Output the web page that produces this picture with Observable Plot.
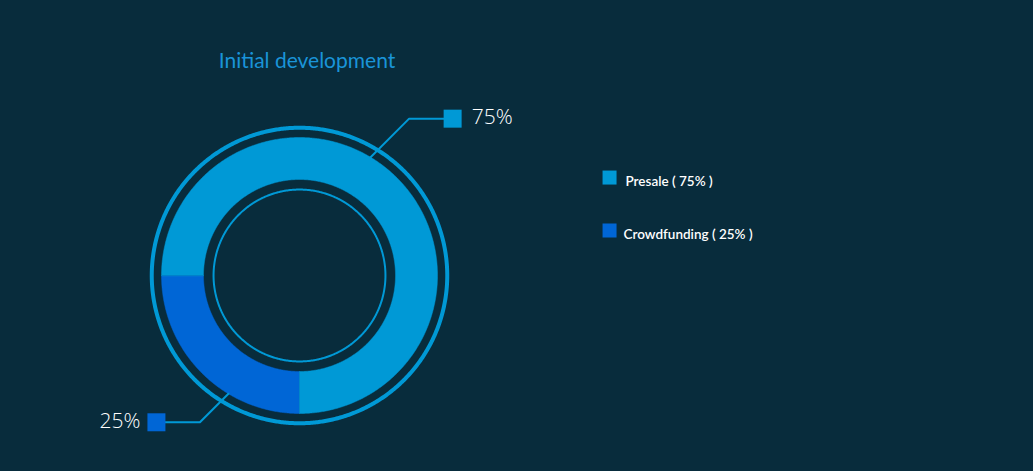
<!DOCTYPE html>
<html><head><meta charset="utf-8">
<script src="https://cdn.jsdelivr.net/npm/d3@7"></script>
<script src="https://cdn.jsdelivr.net/npm/@observablehq/plot@0.6"></script>
<style>html,body{margin:0;padding:0;background:#082c3c;overflow:hidden;}</style>
</head><body><div id="chart"></div>
<script>
// ---- data ----
const title = "Initial development";
const categories = ["Crowdfunding", "Presale"];
const values = [25, 75];
const colors = ["#0066d6", "#0099d6"];
const labelTexts = ["25%", "75%"];
const legendNames = ["Presale", "Crowdfunding"];
const legendTexts = ["Presale ( 75% )", "Crowdfunding ( 25% )"];

// ---- layout (radius units, 1 unit = 150px) ----
const R_OUT = 0.92, R_IN = 0.64, R_RING = 0.985, R_THIN = 0.573;
const START = Math.PI;            // slices start at 6 o'clock, clockwise
const labelAngle = {Crowdfunding: 211, Presale: 31};  // degrees from 12 o'clock
const labelDiag = {Crowdfunding: 0.19, Presale: 0.257};
const labelArm = 0.29;

const total = d3.sum(values);
let acc = 0;
const slices = categories.map((name, i) => {
  const a0 = START + acc / total * 2 * Math.PI;
  acc += values[i];
  const a1 = START + acc / total * 2 * Math.PI;
  return {name, value: values[i], color: colors[i], label: labelTexts[i], a0, a1};
});
const pt = (r, a) => ({x: r * Math.sin(a), y: r * Math.cos(a)});
function slicePoly(s) {
  const pts = [];
  const n = Math.max(2, Math.ceil((s.a1 - s.a0) / (Math.PI / 360)));
  for (let k = 0; k <= n; k++) pts.push(pt(R_OUT, s.a0 + (s.a1 - s.a0) * k / n));
  for (let k = n; k >= 0; k--) pts.push(pt(R_IN, s.a0 + (s.a1 - s.a0) * k / n));
  return pts;
}
function circle(r) {
  const pts = [];
  for (let k = 0; k <= 720; k++) pts.push(pt(r, k / 720 * 2 * Math.PI));
  return pts;
}
const leaders = slices.map(s => {
  const a = labelAngle[s.name] * Math.PI / 180;
  const p0 = pt(R_OUT, a);
  const sx = Math.sign(p0.x), sy = Math.sign(p0.y);
  const d = labelDiag[s.name];
  const p1 = {x: p0.x + sx * d, y: p0.y + sy * d};
  const p2 = {x: p1.x + sx * labelArm, y: p1.y};
  return {s, pts: [p0, p1, p2], sq: p2, side: sx};
});

const legendRows = legendNames.map((n, i) => {
  const s = slices.find(d => d.name === n);
  return {name: n, text: legendTexts[i], color: s.color, row: i};
});
const LEG_X = 2.067, LEG_TX = 2.16, LEG_Y0 = 0.653, LEG_DY = -0.353;

const pctStyle = {fill: "#ffffff", fontSize: 21, fontWeight: 300, fontFamily: "Open Sans"};
const marks = [
  Plot.line(circle(R_RING), {x: "x", y: "y", stroke: "#0099d6", strokeWidth: 4}),
  Plot.line(circle(R_THIN), {x: "x", y: "y", stroke: "#0099d6", strokeWidth: 2}),
  ...slices.map(s => Plot.line(slicePoly(s), {x: "x", y: "y", fill: s.color, stroke: s.color, strokeWidth: 0.5, curve: "linear-closed"})),
  ...leaders.map(l => Plot.line(l.pts, {x: "x", y: "y", stroke: "#0099d6", strokeWidth: 2})),
  Plot.dot(leaders, {x: d => d.sq.x, y: d => d.sq.y, symbol: "square", r: 18 / Math.sqrt(Math.PI), fill: d => d.s.color, stroke: null}),
  Plot.text(leaders.filter(d => d.side > 0), {x: d => d.sq.x + 0.127, y: d => d.sq.y, dy: -1, text: d => d.s.label, textAnchor: "start", ...pctStyle}),
  Plot.text(leaders.filter(d => d.side < 0), {x: d => d.sq.x - 0.107, y: d => d.sq.y, dy: -1, text: d => d.s.label, textAnchor: "end", ...pctStyle}),
  Plot.dot(legendRows, {x: () => LEG_X, y: d => LEG_Y0 + d.row * LEG_DY, symbol: "square", r: 14 / Math.sqrt(Math.PI), fill: d => d.color, stroke: null}),
  Plot.text(legendRows.filter(d => d.row === 0), {x: () => LEG_TX + 0.013, y: d => LEG_Y0 + d.row * LEG_DY, dy: 4, text: "text", textAnchor: "start", fill: "#ffffff", fontSize: 13.5, fontWeight: 600, fontFamily: "Lato"}),
  Plot.text(legendRows.filter(d => d.row !== 0), {x: () => LEG_TX, y: d => LEG_Y0 + d.row * LEG_DY, dy: 4, text: "text", textAnchor: "start", fill: "#ffffff", fontSize: 13.5, fontWeight: 600, fontFamily: "Lato"}),
  Plot.text([title], {x: () => 0.05, y: () => 1.43, text: d => d, fill: "#1a94d8", fontSize: 21, fontFamily: "Lato", textAnchor: "middle"})
];

const chart = Plot.plot({
  width: 1033, height: 471,
  x: {domain: [-1, 1], range: [149, 449], axis: null},
  y: {domain: [-1, 1], range: [425, 125], axis: null},
  style: {background: "#082c3c", overflow: "visible"},
  marks
});
document.getElementById("chart").appendChild(chart);
</script>
</body></html>
